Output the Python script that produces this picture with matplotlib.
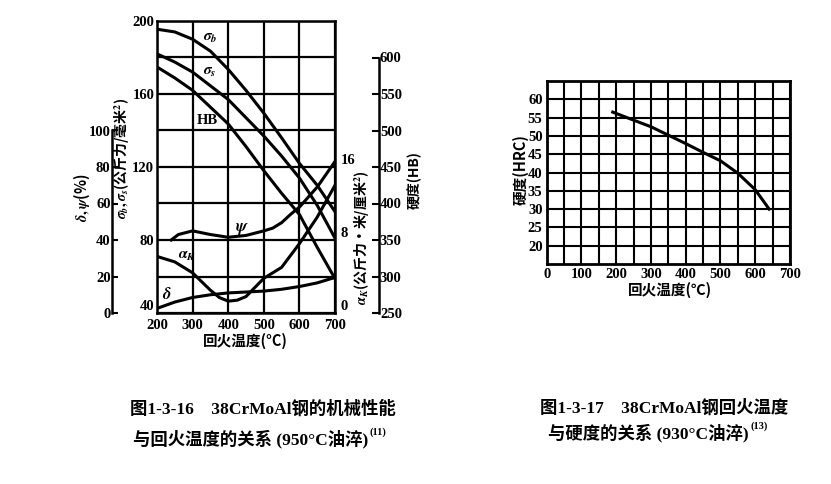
import matplotlib
matplotlib.use("Agg")
import matplotlib.pyplot as plt

plt.rcParams['font.family'] = ['Liberation Serif', 'Noto Sans CJK SC']
plt.rcParams['font.weight'] = 'bold'
plt.rcParams['mathtext.fontset'] = 'stix'

# ---------------- data: Fig 1-3-16 ----------------
temp = [200, 250, 300, 350, 400, 450, 500, 550, 600, 650, 700]
sigma_b = [195.5, 194, 190, 183.5, 173.5, 162, 149.5, 136, 122, 110, 95.5]
sigma_s = [182, 177.5, 172, 164.5, 157, 147, 137, 126, 114, 99, 81]
hb = [587, 572, 555, 532, 509, 478, 445, 414, 385, 340, 297]
delta = [2.5, 6, 8.5, 10, 11, 11.5, 12, 13, 14.5, 16.5, 19.5]
temp_psi = [240, 260, 300, 350, 400, 450, 500, 525, 550, 575, 600, 650, 700]
psi = [40, 43, 45, 43, 41.5, 42.5, 45, 46.5, 49.5, 54, 58, 69, 83]
temp_ak = [200, 250, 300, 350, 375, 400, 425, 450, 500, 550, 600, 650, 700]
alpha_k = [6.2, 5.6, 4.4, 2.5, 1.7, 1.3, 1.4, 1.8, 3.8, 5.0, 7.6, 10.5, 14]

x_ticks1 = [200, 300, 400, 500, 600, 700]
y_ticks_main = [40, 60, 80, 100, 120, 140, 160, 180, 200]
y_ticks_pct = [0, 20, 40, 60, 80, 100]
y_ticks_ak = [0, 8, 16]
y_ticks_hb = [250, 300, 350, 400, 450, 500, 550, 600]

# ---------------- data: Fig 1-3-17 ----------------
temp_hrc = [190, 250, 300, 350, 400, 450, 500, 550, 600, 640]
hrc = [56.5, 54.3, 52.5, 50.2, 47.9, 45.5, 43.2, 39.8, 35.3, 30]
x_ticks2 = [0, 100, 200, 300, 400, 500, 600, 700]
x_minor2 = [50, 150, 250, 350, 450, 550, 650]
y_ticks2 = [20, 25, 30, 35, 40, 45, 50, 55, 60]

W, H = 831, 484
def fx(px):
    return px / W
def fy(py):
    return 1 - py / H

fig = plt.figure(figsize=(W / 100, H / 100), dpi=100)
fig.patch.set_facecolor('white')

CJK = 'Noto Sans CJK SC'
TS = 10.5

# ---------------- chart 1 ----------------
ax1 = fig.add_axes([fx(157), fy(313), 178 / W, 292 / H])
ax1.set_xlim(200, 700)
ax1.set_ylim(40, 200)
ax1.set_xticks(x_ticks1)
ax1.set_yticks(y_ticks_main)
ax1.set_yticklabels([str(v) if v % 40 == 0 else '' for v in y_ticks_main])
ax1.grid(True, color='black', lw=1.6)
ax1.tick_params(axis='y', length=0, labelsize=TS, pad=2)
ax1.tick_params(axis='x', length=0, labelsize=TS, pad=4)
ax1.get_yticklabels()[0].set_verticalalignment('bottom')
for s in ax1.spines.values():
    s.set_linewidth(1.8)
ax1.plot(temp, sigma_b, color='black', lw=2.2)
ax1.plot(temp, sigma_s, color='black', lw=2.2)

# percent axis (delta, psi)
ax_pct = ax1.twinx()
ax_pct.set_ylim(0, 160)
for n in ['top', 'right', 'bottom']:
    ax_pct.spines[n].set_visible(False)
ax_pct.spines['left'].set_position(('axes', (112 - 157) / 178))
ax_pct.spines['left'].set_bounds(0, 100)
ax_pct.spines['left'].set_linewidth(1.8)
ax_pct.yaxis.tick_left()
ax_pct.set_yticks(y_ticks_pct)
ax_pct.tick_params(axis='y', direction='in', length=4, width=1.5, pad=1, labelsize=TS)
ax_pct.plot(temp, delta, color='black', lw=2.2)
ax_pct.plot(temp_psi, psi, color='black', lw=2.2)

# alpha_K axis
ax_ak = ax1.twinx()
ax_ak.set_ylim(0, 32)
for s in ax_ak.spines.values():
    s.set_visible(False)
ax_ak.set_yticks(y_ticks_ak)
ax_ak.tick_params(axis='y', length=0, pad=4, labelsize=TS)
for lab in ax_ak.get_yticklabels():
    lab.set_verticalalignment('bottom')
ax_ak.plot(temp_ak, alpha_k, color='black', lw=2.2)

# HB axis
ax_hb = ax1.twinx()
ax_hb.set_ylim(250, 650)
for n in ['top', 'left', 'bottom']:
    ax_hb.spines[n].set_visible(False)
ax_hb.spines['right'].set_position(('axes', (378.5 - 157) / 178))
ax_hb.spines['right'].set_bounds(250, 600)
ax_hb.spines['right'].set_linewidth(1.8)
ax_hb.set_yticks(y_ticks_hb)
ax_hb.tick_params(axis='y', direction='in', length=5, width=1.5, pad=1, labelsize=TS)
ax_hb.plot(temp, hb, color='black', lw=2.2)

# curve labels
ax1.text(349, 190.5, r'$\sigma_b$', fontsize=11, ha='center', va='center')
ax1.text(349, 172, r'$\sigma_s$', fontsize=11, ha='center', va='center')
ax1.text(340, 145.5, 'HB', fontsize=10.5, ha='center', va='center')
ax1.text(439, 86, r'$\psi$', fontsize=12, ha='center', va='center')
ax1.text(284, 71, r'$\alpha_K$', fontsize=11, ha='center', va='center')
ax1.text(228, 50, r'$\delta$', fontsize=12, ha='center', va='center')

# axis labels chart 1
fig.text(fx(122), fy(158), r'$\sigma_b,\sigma_s$(公斤力/毫米$^2$)', rotation=90,
         ha='center', va='center', family=CJK, fontsize=10)
fig.text(fx(82), fy(198), r'$\delta,\psi$(%)', rotation=90,
         ha='center', va='center', family=CJK, fontsize=10.5)
fig.text(fx(362), fy(238), r'$\alpha_K$(公斤力·米/厘米$^2$)', rotation=90,
         ha='center', va='center', family=CJK, fontsize=10)
fig.text(fx(415), fy(180), '硬度(HB)', rotation=90,
         ha='center', va='center', family=CJK, fontsize=10)
fig.text(fx(245), fy(341), '回火温度(°C)', ha='center', va='center',
         family=CJK, fontsize=10.5)

# ---------------- chart 2 ----------------
ax2 = fig.add_axes([fx(546.7), fy(264), 243.3 / W, 183 / H])
ax2.set_xlim(0, 700)
ax2.set_ylim(15, 65)
ax2.set_xticks(x_ticks2)
ax2.set_xticks(x_minor2, minor=True)
ax2.set_yticks(y_ticks2)
ax2.grid(True, which='both', color='black', lw=1.5)
ax2.tick_params(which='both', length=0, labelsize=TS, pad=3)
for s in ax2.spines.values():
    s.set_linewidth(2)
ax2.plot(temp_hrc, hrc, color='black', lw=2.2)

fig.text(fx(521), fy(170), '硬度(HRC)', rotation=90, ha='center', va='center',
         family=CJK, fontsize=10.5)
fig.text(fx(670), fy(290), '回火温度(℃)', ha='center', va='center',
         family=CJK, fontsize=10.5)

# ---------------- captions ----------------
cap = dict(ha='left', va='center', fontsize=12.5)
t1 = fig.text(fx(130), fy(409), '图1-3-16　38CrMoAl钢的机械性能', **cap)
t2 = fig.text(fx(133), fy(439), '与回火温度的关系 (950°C油淬)', **cap)
ax1.annotate('(11)', xy=(1.0, 0.85), xycoords=t2, xytext=(1, 0),
             textcoords='offset points', ha='left', va='center',
             fontsize=7.5, annotation_clip=False)
t3 = fig.text(fx(540), fy(408), '图1-3-17　38CrMoAl钢回火温度', **cap)
t4 = fig.text(fx(548), fy(433), '与硬度的关系 (930°C油淬)', **cap)
ax1.annotate('(13)', xy=(1.0, 0.85), xycoords=t4, xytext=(1, 0),
             textcoords='offset points', ha='left', va='center',
             fontsize=7.5, annotation_clip=False)

fig.savefig('out.png', dpi=100, facecolor='white')
